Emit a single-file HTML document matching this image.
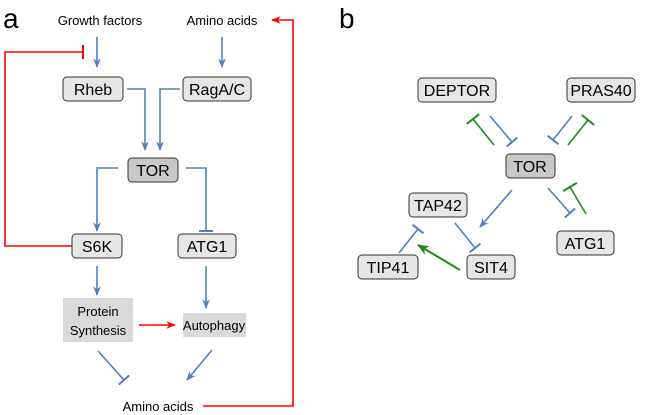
<!DOCTYPE html>
<html><head><meta charset="utf-8"><style>
html,body{margin:0;padding:0;background:#fff;}
svg{display:block;font-family:"Liberation Sans",sans-serif;}
</style></head><body>
<svg width="647" height="415" viewBox="0 0 647 415">
<defs>
<marker id="ab" viewBox="0 0 10 10" refX="9" refY="5" markerWidth="6" markerHeight="6" orient="auto"><path d="M0,1 L10,5 L0,9 L3,5z" fill="#4f81bd"/></marker>
<marker id="ag" viewBox="0 0 10 10" refX="9" refY="5" markerWidth="6" markerHeight="6" orient="auto"><path d="M0,1 L10,5 L0,9 L3,5z" fill="#1e8a1e"/></marker>
<marker id="ar" viewBox="0 0 10 10" refX="9" refY="5" markerWidth="6" markerHeight="6" orient="auto"><path d="M0,1 L10,5 L0,9 L3,5z" fill="#ff0000"/></marker>
<marker id="tb" viewBox="0 0 4 14" refX="2" refY="7" markerWidth="4" markerHeight="14" markerUnits="userSpaceOnUse" orient="auto"><path d="M2,0 L2,14" stroke="#4f81bd" stroke-width="2"/></marker>
<marker id="tg" viewBox="0 0 4 16" refX="2" refY="8" markerWidth="4" markerHeight="16" markerUnits="userSpaceOnUse" orient="auto"><path d="M2,0 L2,16" stroke="#1e8a1e" stroke-width="2"/></marker>
<marker id="tr" viewBox="0 0 4 14" refX="2" refY="7" markerWidth="4" markerHeight="14" markerUnits="userSpaceOnUse" orient="auto"><path d="M2,0 L2,14" stroke="#ff0000" stroke-width="2"/></marker>
</defs>

<!-- Panel a -->
<text x="3" y="28" font-size="28">a</text>
<text x="100" y="25" font-size="13" text-anchor="middle">Growth factors</text>
<text x="222" y="25" font-size="13" text-anchor="middle">Amino acids</text>

<g fill="none" stroke-width="1.6">
<path d="M97,37 L97,67" stroke="#4f81bd" marker-end="url(#ab)"/>
<path d="M222,37 L222,67" stroke="#4f81bd" marker-end="url(#ab)"/>
<path d="M127,89 L145,89 L145,150" stroke="#4f81bd" marker-end="url(#ab)"/>
<path d="M180,89 L160,89 L160,150" stroke="#4f81bd" marker-end="url(#ab)"/>
<path d="M118,168 L97,168 L97,231" stroke="#4f81bd" marker-end="url(#ab)"/>
<path d="M186,168 L206,168 L206,231" stroke="#4f81bd" marker-end="url(#tb)"/>
<path d="M97,266 L97,295" stroke="#4f81bd" marker-end="url(#ab)"/>
<path d="M206,266 L206,308" stroke="#4f81bd" marker-end="url(#ab)"/>
<path d="M98,351 L124,380" stroke="#4f81bd" marker-end="url(#tb)"/>
<path d="M212,350 L187,380" stroke="#4f81bd" marker-end="url(#ab)"/>
<path d="M72,246 L5,246 L5,52 L83,52" stroke="#ff0000" marker-end="url(#tr)"/>
<path d="M139,325 L175,325" stroke="#ff0000" marker-end="url(#ar)"/>
<path d="M203,406 L293,406 L293,20 L272,20" stroke="#ff0000" marker-end="url(#ar)"/>
</g>

<g font-size="16" text-anchor="middle" stroke-width="1">
<g><rect x="63" y="77" width="60" height="24" rx="4" fill="#e6e6e6" stroke="#333"/><text x="93" y="95" stroke="none">Rheb</text></g>
<g><rect x="183" y="77" width="68" height="24" rx="4" fill="#e6e6e6" stroke="#333"/><text x="217" y="95" stroke="none">RagA/C</text></g>
<g><rect x="128" y="158" width="50" height="24" rx="4" fill="#c8c8c8" stroke="#333"/><text x="153" y="176" stroke="none">TOR</text></g>
<g><rect x="72" y="234" width="50" height="24" rx="4" fill="#e6e6e6" stroke="#333"/><text x="97" y="252" stroke="none">S6K</text></g>
<g><rect x="178" y="234" width="58" height="24" rx="4" fill="#e6e6e6" stroke="#333"/><text x="207" y="252" stroke="none">ATG1</text></g>
</g>
<g font-size="13" text-anchor="middle">
<g><rect x="63" y="298" width="70" height="44" fill="#d9d9d9"/><text x="98" y="316">Protein</text><text x="98" y="335">Synthesis</text></g>
<g><rect x="183" y="313" width="63" height="24" fill="#d9d9d9"/><text x="214" y="330">Autophagy</text></g>
<text x="158" y="411">Amino acids</text>
</g>

<!-- Panel b -->
<text x="339" y="28" font-size="28">b</text>
<g fill="none" stroke-width="1.6">
<path d="M494,145 L473,119" stroke="#1e8a1e" marker-end="url(#tg)"/>
<path d="M490,116 L512,142" stroke="#4f81bd" marker-end="url(#tb)"/>
<path d="M572,116 L553,140" stroke="#4f81bd" marker-end="url(#tb)"/>
<path d="M568,145 L588,120" stroke="#1e8a1e" marker-end="url(#tg)"/>
<path d="M548,188 L570,213" stroke="#4f81bd" marker-end="url(#tb)"/>
<path d="M586,214 L570,187" stroke="#1e8a1e" marker-end="url(#tg)"/>
<path d="M512,190 L480,227" stroke="#4f81bd" marker-end="url(#ab)"/>
<path d="M455,223 L475,248" stroke="#4f81bd" marker-end="url(#tb)"/>
<path d="M399,253 L418,229" stroke="#4f81bd" marker-end="url(#tb)"/>
<path d="M460,270 L418,245" stroke="#1e8a1e" stroke-width="2" marker-end="url(#ag)"/>
</g>
<g font-size="16" text-anchor="middle" stroke-width="1">
<g><rect x="418" y="78" width="78" height="24" rx="4" fill="#e6e6e6" stroke="#333"/><text x="457" y="96" stroke="none">DEPTOR</text></g>
<g><rect x="567" y="78" width="68" height="24" rx="4" fill="#e6e6e6" stroke="#333"/><text x="601" y="96" stroke="none">PRAS40</text></g>
<g><rect x="506" y="154" width="49" height="24" rx="4" fill="#c8c8c8" stroke="#333"/><text x="530" y="172" stroke="none">TOR</text></g>
<g><rect x="409" y="193" width="58" height="24" rx="4" fill="#e6e6e6" stroke="#333"/><text x="438" y="211" stroke="none">TAP42</text></g>
<g><rect x="557" y="231" width="57" height="24" rx="4" fill="#e6e6e6" stroke="#333"/><text x="585" y="249" stroke="none">ATG1</text></g>
<g><rect x="358" y="255" width="60" height="24" rx="4" fill="#e6e6e6" stroke="#333"/><text x="388" y="273" stroke="none">TIP41</text></g>
<g><rect x="467" y="255" width="48" height="24" rx="4" fill="#e6e6e6" stroke="#333"/><text x="491" y="273" stroke="none">SIT4</text></g>
</g>
</svg>
</body></html>
